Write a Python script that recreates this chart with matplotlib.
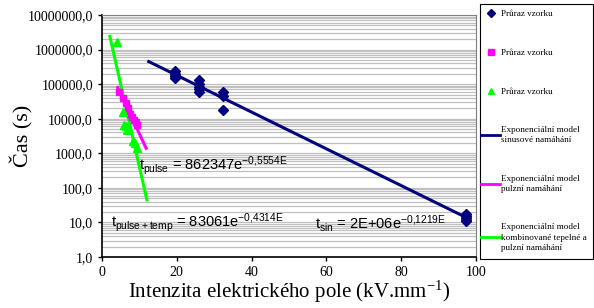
import numpy as np
import matplotlib.pyplot as plt
from matplotlib.lines import Line2D
from matplotlib.patches import Rectangle
from matplotlib.ticker import FixedLocator, LogLocator, NullFormatter

plt.rcParams['mathtext.fontset'] = 'custom'
plt.rcParams['mathtext.rm'] = 'Liberation Sans'
plt.rcParams['mathtext.it'] = 'Liberation Sans'

# breakdown points - sinusoidal stress
sin_E = [19.6, 19.6, 19.6, 19.6, 26.0, 26.0, 26.0, 26.0, 26.0,
         32.4, 32.4, 32.4, 97.3, 97.3, 97.3, 97.3, 97.3]
sin_t = [240000, 200000, 170000, 150000, 130000, 100000, 85000, 70000, 60000,
         60000, 45000, 18000, 17, 15, 13, 12, 11]

# breakdown points - pulse stress
pulse_E = [4.6, 5.5, 6.5, 7.0, 7.5, 8.0, 8.5, 9.0, 9.4]
pulse_t = [60000, 40000, 28000, 20000, 14000, 11000, 9000, 8000, 6500]

# breakdown points - combined thermal + pulse stress
comb_E = [4.0, 5.5, 5.9, 6.4, 6.6, 8.4, 8.8, 9.3]
comb_t = [1700000, 16000, 6600, 6000, 4700, 2200, 2000, 1400]

# trendlines (end points)
sin_fit_E = [12.5, 97.3]
sin_fit_t = [450000, 14]
pulse_fit_E = [4.2, 11.8]
pulse_fit_t = [80000, 1400]
comb_fit_E = [2.1, 12.0]
comb_fit_t = [2400000, 45]

legend_labels = ['Průraz vzorku', 'Průraz vzorku', 'Průraz vzorku',
                 'Exponenciální model\nsinusové namáhání',
                 'Exponenciální model\npulzní namáhání',
                 'Exponenciální model\nkombinované tepelné a\npulzní namáhání']

navy = '#000080'
mag = '#FF00FF'
lime = '#00FF00'

fig = plt.figure(figsize=(5.94, 3.08), dpi=100)
ax = fig.add_axes([102 / 594, 1 - 257 / 308, 374 / 594, 242 / 308])

ax.set_yscale('log')
ax.set_ylim(1, 1e7)
ax.set_xlim(0, 100)

ax.yaxis.set_minor_locator(LogLocator(base=10, subs=np.arange(2, 10)))
ax.yaxis.set_minor_formatter(NullFormatter())
ax.yaxis.set_major_locator(FixedLocator([10.0 ** k for k in range(8)]))
ax.set_yticklabels([f'{10 ** k},0' for k in range(8)])
ax.set_xticks([0, 20, 40, 60, 80, 100])
ax.grid(True, which='both', axis='y', color='#c0c0c0', lw=0.9)
ax.set_axisbelow(True)

ax.tick_params(which='major', direction='out', length=3, width=1, labelsize=10)
ax.tick_params(which='minor', length=0)
for lab in ax.get_xticklabels() + ax.get_yticklabels():
    lab.set_family('Liberation Serif')
for s in ['top', 'right']:
    ax.spines[s].set_color('#808080')
for s in ['left', 'bottom']:
    ax.spines[s].set_linewidth(1.2)

ax.plot(sin_fit_E, sin_fit_t, color=navy, lw=2.2, zorder=3)
ax.plot(pulse_fit_E, pulse_fit_t, color=mag, lw=2.2, zorder=3)
ax.plot(comb_fit_E, comb_fit_t, color=lime, lw=2.2, zorder=4)
ax.plot(sin_E, sin_t, 'D', color=navy, ms=5, zorder=5)
ax.plot(pulse_E, pulse_t, 's', color=mag, ms=5, zorder=5)
ax.plot(comb_E, comb_t, '^', color=lime, ms=6, zorder=6)

ax.text(10.0, 430, r'$\mathregular{t_{pulse}}$ = 862347e$\mathregular{^{-0{,}5554E}}$',
        fontsize=10.5, family='Liberation Sans', va='center')
ax.text(2.3, 10, r'$\mathregular{t_{pulse+temp}}$ = 83061e$\mathregular{^{-0{,}4314E}}$',
        fontsize=10.5, family='Liberation Sans', va='center')
ax.text(57.0, 9.5, r'$\mathregular{t_{sin}}$ = 2E+06e$\mathregular{^{-0{,}1219E}}$',
        fontsize=10.5, family='Liberation Sans', va='center')

ax.set_xlabel(r'Intenzita elektrického pole (kV.mm$\mathregular{^{-1}}$)',
              family='Liberation Serif', fontsize=15, labelpad=0)
ax.set_ylabel('Čas (s)', family='Liberation Serif', fontsize=16)
ax.yaxis.set_label_coords(-0.184, 0.5)

# legend frame drawn as its own box
fig.patches.append(Rectangle((480 / 594, 1 - 259 / 308), 113 / 594, 255 / 308,
                             transform=fig.transFigure, fill=True,
                             facecolor='white', edgecolor='black', lw=0.8))

handles = [
    Line2D([], [], ls='none', marker='D', color=navy, ms=4),
    Line2D([], [], ls='none', marker='s', color=mag, ms=4),
    Line2D([], [], ls='none', marker='^', color=lime, ms=5),
    Line2D([], [], color=navy, lw=2),
    Line2D([], [], color=mag, lw=2),
    Line2D([], [], color=lime, lw=2),
]
leg = fig.legend(handles, legend_labels, loc='upper left',
                 bbox_to_anchor=(481 / 594, 1 - 10 / 308),
                 prop={'family': 'Liberation Serif', 'size': 6.6},
                 labelspacing=3.3, handlelength=2.1, handletextpad=0.1,
                 borderpad=0, borderaxespad=0, frameon=False)
for t in leg.get_texts():
    t.set_linespacing(1.4)

fig.savefig('out.png', dpi=100)
